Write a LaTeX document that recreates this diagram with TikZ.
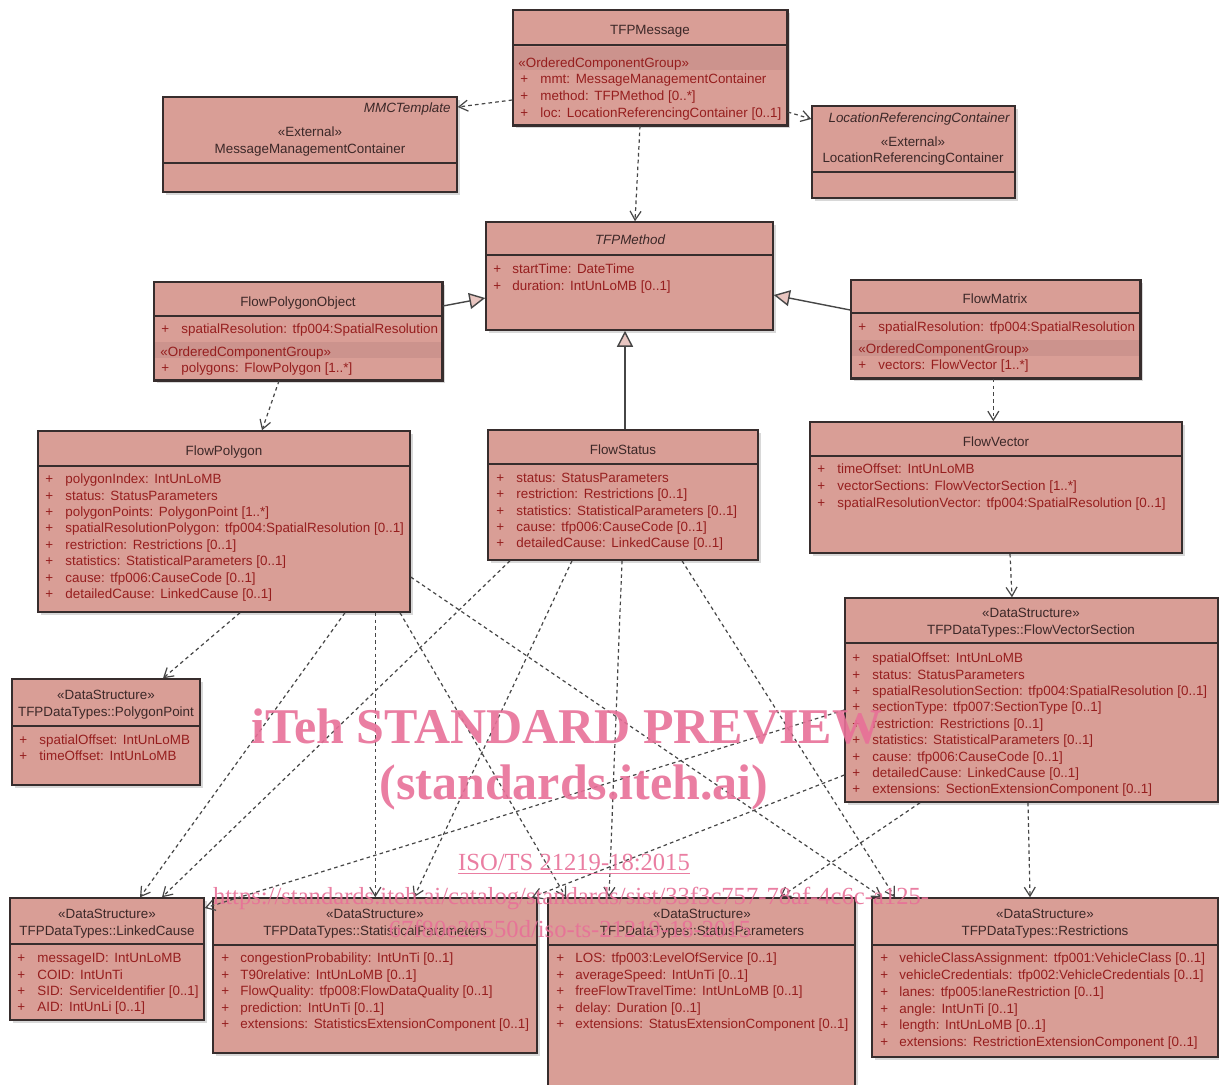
\documentclass[tikz,border=0pt]{standalone}
\usepackage{fontspec}
\setmainfont{Liberation Sans}
\newfontfamily\wmfont{Liberation Serif}
\usetikzlibrary{arrows.meta,fit,shadows}
\definecolor{boxfill}{RGB}{217,158,150}
\definecolor{bandcol}{RGB}{204,147,141}
\definecolor{boxline}{RGB}{55,45,45}
\definecolor{attrcol}{RGB}{150,30,30}
\definecolor{titlecol}{RGB}{60,40,40}
\definecolor{linkcol}{RGB}{70,70,70}
\definecolor{wmpink}{RGB}{232,112,152}
\newcommand\fs{\fontsize{6.7}{8}\selectfont}
\newcommand\cs{\hspace{2.8pt}}
\tikzset{
 x=0.5pt, y=-0.5pt,
 umlbox/.style={draw=boxline, line width=0.75pt, fill=boxfill, inner sep=0pt,
   drop shadow={shadow xshift=1.5pt, shadow yshift=-1.5pt, fill=black!25, opacity=0.6}},
 sepline/.style={draw=boxline, line width=0.75pt},
 ttl/.style={font=\fs, text=titlecol, inner sep=0pt, text height=5.6pt, text depth=0pt},
 attrtxt/.style={font=\fs, text=attrcol, inner sep=0pt, anchor=west, text height=5.6pt, text depth=0pt},
 dep/.style={draw=linkcol, line width=0.6pt, dash pattern=on 1.8pt off 1.6pt,
   -{Straight Barb[length=4.5pt,width=5.5pt]}},
 gen/.style={draw=linkcol, line width=0.7pt,
   -{Triangle[open, length=8pt, width=8pt, fill=boxfill!60!white]}},
 wm/.style={text=wmpink, inner sep=0pt, opacity=0.9},
}
\newcommand\umlbx[5]{\node[umlbox, fit={(#2,#3) (#4,#5)}] (#1) {};}
\newcommand\sepl[2]{\draw[sepline] (#1.west |- 0,#2) -- (#1.east |- 0,#2);}
\newcommand\rows[6]{%
 \foreach \t [count=\k from 0] in {#6}{%
  \node[attrtxt] (#1p\k) at (#2,{#4+#5*\k}) {+};
  \node[attrtxt] (#1a\k) at (#3,{#4+#5*\k}) {\t};}}
\begin{document}
\begin{tikzpicture}
\useasboundingbox (0,0) rectangle (1219,1084);
\fill[white] (0,0) rectangle (1219,1084);
\clip (0,0) rectangle (1219,1084);

% TFPMessage
\umlbx{msg}{513}{10}{787}{125}
\fill[bandcol] (514,47) rectangle (786,70);
\draw[boxline, line width=0.75pt] (msg.north west) rectangle (msg.south east);
\sepl{msg}{45}
\node[ttl] (msgT) at (650,29) {TFPMessage};
\node[attrtxt] (msgO) at (518,62) {«OrderedComponentGroup»};
\rows{msg}{520}{540}{78}{16.8}{{mmt:\cs MessageManagementContainer},{method:\cs TFPMethod [0..*]},{loc:\cs LocationReferencingContainer [0..1]}}

% MessageManagementContainer
\umlbx{mmc}{163}{97}{457}{192}
\node[ttl, anchor=east, font=\fs\itshape] (mmcI) at (451,107) {MMCTemplate};
\node[ttl] (mmcS) at (310,131) {«External»};
\node[ttl] (mmcN) at (310,148) {MessageManagementContainer};
\sepl{mmc}{163}

% LocationReferencingContainer
\umlbx{lrc}{812}{106}{1015}{198}
\node[ttl, anchor=east, font=\fs\itshape] (lrcI) at (1010,117) {LocationReferencingContainer};
\node[ttl] (lrcS) at (913,141) {«External»};
\node[ttl] (lrcN) at (913,157) {LocationReferencingContainer};
\sepl{lrc}{172}

% TFPMethod
\umlbx{meth}{486}{222}{773}{330}
\node[ttl, font=\fs\itshape] (methT) at (630,239) {TFPMethod};
\sepl{meth}{255}
\rows{meth}{493}{512}{268}{16.8}{{startTime:\cs DateTime},{duration:\cs IntUnLoMB [0..1]}}

% FlowPolygonObject
\umlbx{fpo}{154}{282}{442}{380}
\fill[bandcol] (155,342) rectangle (441,358);
\draw[boxline, line width=0.75pt] (fpo.north west) rectangle (fpo.south east);
\node[ttl] (fpoT) at (298,301) {FlowPolygonObject};
\sepl{fpo}{316}
\rows{fpo}{161}{181}{328}{16}{{spatialResolution:\cs tfp004:SpatialResolution}}
\node[attrtxt] (fpoO) at (160,351) {«OrderedComponentGroup»};
\rows{fpoB}{161}{181}{367}{16}{{polygons:\cs FlowPolygon [1..*]}}

% FlowMatrix
\umlbx{fm}{851}{280}{1140}{378}
\fill[bandcol] (852,340) rectangle (1139,356);
\draw[boxline, line width=0.75pt] (fm.north west) rectangle (fm.south east);
\node[ttl] (fmT) at (995,298) {FlowMatrix};
\sepl{fm}{313}
\rows{fm}{858}{878}{326}{16}{{spatialResolution:\cs tfp004:SpatialResolution}}
\node[attrtxt] (fmO) at (858,348) {«OrderedComponentGroup»};
\rows{fmB}{858}{878}{364}{16}{{vectors:\cs FlowVector [1..*]}}

% FlowPolygon
\umlbx{fpoly}{38}{431}{410}{612}
\node[ttl] (fpolyT) at (224,450) {FlowPolygon};
\sepl{fpoly}{466}
\rows{fpoly}{45}{65}{478}{16.43}{{polygonIndex:\cs IntUnLoMB},{status:\cs StatusParameters},{polygonPoints:\cs PolygonPoint [1..*]},{spatialResolutionPolygon:\cs tfp004:SpatialResolution [0..1]},{restriction:\cs Restrictions [0..1]},{statistics:\cs StatisticalParameters [0..1]},{cause:\cs tfp006:CauseCode [0..1]},{detailedCause:\cs LinkedCause [0..1]}}

% FlowStatus
\umlbx{fs}{488}{430}{758}{560}
\node[ttl] (fsT) at (623,449) {FlowStatus};
\sepl{fs}{464}
\rows{fs}{496}{516}{477}{16.3}{{status:\cs StatusParameters},{restriction:\cs Restrictions [0..1]},{statistics:\cs StatisticalParameters [0..1]},{cause:\cs tfp006:CauseCode [0..1]},{detailedCause:\cs LinkedCause [0..1]}}

% FlowVector
\umlbx{fv}{810}{422}{1182}{553}
\node[ttl] (fvT) at (996,441) {FlowVector};
\sepl{fv}{456}
\rows{fv}{817}{837}{468}{16.8}{{timeOffset:\cs IntUnLoMB},{vectorSections:\cs FlowVectorSection [1..*]},{spatialResolutionVector:\cs tfp004:SpatialResolution [0..1]}}

% FlowVectorSection
\umlbx{fvs}{845}{598}{1218}{802}
\node[ttl] (fvsS) at (1031,612) {«DataStructure»};
\node[ttl] (fvsN) at (1031,629) {TFPDataTypes::FlowVectorSection};
\sepl{fvs}{643}
\rows{fvs}{852}{872}{657}{16.4}{{spatialOffset:\cs IntUnLoMB},{status:\cs StatusParameters},{spatialResolutionSection:\cs tfp004:SpatialResolution [0..1]},{sectionType:\cs tfp007:SectionType [0..1]},{restriction:\cs Restrictions [0..1]},{statistics:\cs StatisticalParameters [0..1]},{cause:\cs tfp006:CauseCode [0..1]},{detailedCause:\cs LinkedCause [0..1]},{extensions:\cs SectionExtensionComponent [0..1]}}

% PolygonPoint
\umlbx{pp}{12}{679}{200}{785}
\node[ttl] (ppS) at (106,694) {«DataStructure»};
\node[ttl] (ppN) at (106,711) {TFPDataTypes::PolygonPoint};
\sepl{pp}{726}
\rows{pp}{19}{39}{739}{16}{{spatialOffset:\cs IntUnLoMB},{timeOffset:\cs IntUnLoMB}}

% LinkedCause
\umlbx{lc}{10}{898}{204}{1020}
\node[ttl] (lcS) at (107,913) {«DataStructure»};
\node[ttl] (lcN) at (107,930) {TFPDataTypes::LinkedCause};
\sepl{lc}{944}
\rows{lc}{17}{37}{957}{16.4}{{messageID:\cs IntUnLoMB},{COID:\cs IntUnTi},{SID:\cs ServiceIdentifier [0..1]},{AID:\cs IntUnLi [0..1]}}

% StatisticalParameters
\umlbx{sp}{213}{898}{537}{1053}
\node[ttl] (spS) at (375,913) {«DataStructure»};
\node[ttl] (spN) at (375,930) {TFPDataTypes::StatisticalParameters};
\sepl{sp}{945}
\rows{sp}{221}{240}{957}{16.5}{{congestionProbability:\cs IntUnTi [0..1]},{T90relative:\cs IntUnLoMB [0..1]},{FlowQuality:\cs tfp008:FlowDataQuality [0..1]},{prediction:\cs IntUnTi [0..1]},{extensions:\cs StatisticsExtensionComponent [0..1]}}

% StatusParameters
\umlbx{stp}{548}{898}{855}{1096}
\node[ttl] (stpS) at (702,913) {«DataStructure»};
\node[ttl] (stpN) at (702,930) {TFPDataTypes::StatusParameters};
\sepl{stp}{945}
\rows{stp}{556}{575}{957}{16.5}{{LOS:\cs tfp003:LevelOfService [0..1]},{averageSpeed:\cs IntUnTi [0..1]},{freeFlowTravelTime:\cs IntUnLoMB [0..1]},{delay:\cs Duration [0..1]},{extensions:\cs StatusExtensionComponent [0..1]}}

% Restrictions
\umlbx{rs}{872}{898}{1218}{1057}
\node[ttl] (rsS) at (1045,913) {«DataStructure»};
\node[ttl] (rsN) at (1045,930) {TFPDataTypes::Restrictions};
\sepl{rs}{945}
\rows{rs}{880}{899}{957}{16.8}{{vehicleClassAssignment:\cs tfp001:VehicleClass [0..1]},{vehicleCredentials:\cs tfp002:VehicleCredentials [0..1]},{lanes:\cs tfp005:laneRestriction [0..1]},{angle:\cs IntUnTi [0..1]},{length:\cs IntUnLoMB [0..1]},{extensions:\cs RestrictionExtensionComponent [0..1]}}

% connectors
\draw[dep] (msg.west |- 0,100) -- (mmc.east |- 0,107);
\draw[dep] (msg.east |- 0,112) -- (lrc.west |- 0,119);
\draw[dep] (msg.south -| 640,0) -- (meth.north -| 635,0);
\draw[gen] (fpo.east |- 0,306) -- (meth.west |- 0,298);
\draw[gen] (fm.west |- 0,310) -- (meth.east |- 0,295);
\draw[gen] (fs.north -| 625,0) -- (meth.south -| 625,0);
\draw[dep] (fpo.south -| 279,0) -- (fpoly.north -| 262,0);
\draw[dep] (fm.south -| 993.3,0) -- (fv.north -| 993.3,0);
\draw[dep] (fv.south -| 1010,0) -- (fvs.north -| 1012,0);
\draw[dep] (fpoly.south -| 240,0) -- (pp.north -| 163,0);
\draw[dep] (fpoly.south -| 345,0) -- (lc.north -| 140,0);
\draw[dep] (fpoly.south -| 375.3,0) -- (sp.north -| 375.3,0);
\draw[dep] (fpoly.south -| 400,0) -- (stp.north -| 566,0);
\draw[dep] (fpoly.east |- 0,577) -- (rs.north -| 882,0);
\draw[dep] (fs.south -| 510,0) -- (lc.north -| 162,0);
\draw[dep] (fs.south -| 572,0) -- (sp.north -| 414,0);
\draw[dep] (fs.south -| 622,0) -- (stp.north -| 609,0);
\draw[dep] (fs.south -| 682,0) -- (rs.north -| 895,0);
\draw[dep] (fvs.west |- 0,710) -- (lc.east |- 0,908);
\draw[dep] (fvs.west |- 0,775) -- (sp.north -| 532,0);
\draw[dep] (fvs.south -| 920,0) -- (stp.north -| 780,0);
\draw[dep] (fvs.south -| 1028,0) -- (rs.north -| 1030,0);

% watermark
\node[wm, font=\wmfont\bfseries\fontsize{25}{28}\selectfont] (wm1) at (567,727) {iTeh STANDARD PREVIEW};
\node[wm, font=\wmfont\bfseries\fontsize{25}{28}\selectfont] (wm2) at (574,787) {(standards.iteh.ai)};
\node[wm, font=\wmfont\fontsize{12.3}{14}\selectfont] (wm3) at (574,864) {\underline{ISO/TS 21219-18:2015}};
\node[wm, font=\wmfont\fontsize{12.3}{14}\selectfont] (wm4) at (571,898) {https://standards.iteh.ai/catalog/standards/sist/33f3c757-78af-4c6c-a125-};
\node[wm, font=\wmfont\fontsize{12.3}{14}\selectfont] (wm5) at (570,929) {67f80e29550d/iso-ts-21219-18-2015};
\end{tikzpicture}
\end{document}
